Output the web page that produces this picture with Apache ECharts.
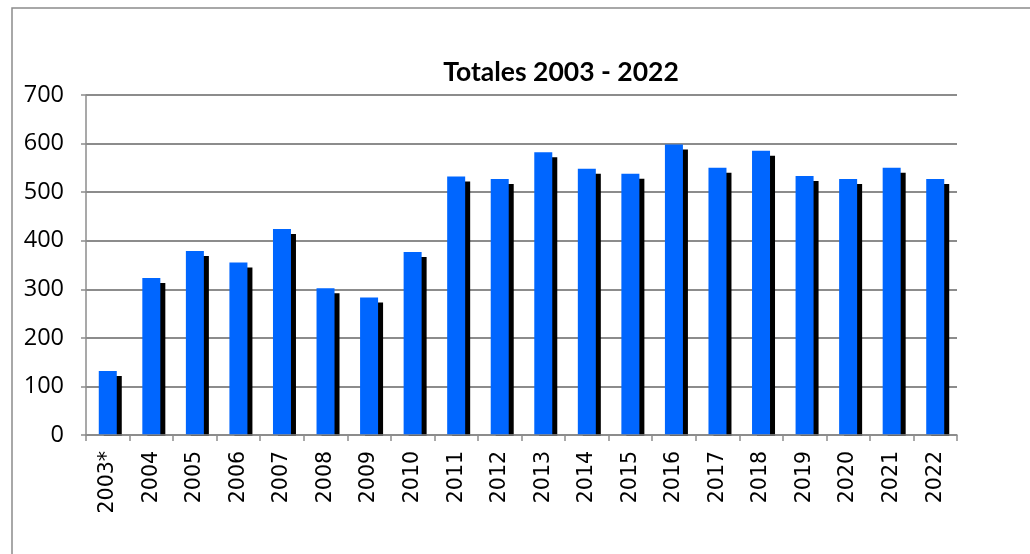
<!DOCTYPE html>
<html>
<head>
<meta charset="utf-8">
<script src="https://cdn.jsdelivr.net/npm/echarts@6/dist/echarts.min.js"></script>
<style>
  html, body { margin: 0; padding: 0; background: #fff; }
  #main { width: 1030px; height: 554px; }
</style>
</head>
<body>
<div id="main"></div>
<script>
// data
var years = ['2003*', '2004', '2005', '2006', '2007', '2008', '2009', '2010', '2011', '2012',
             '2013', '2014', '2015', '2016', '2017', '2018', '2019', '2020', '2021', '2022'];
var totals = [132, 323, 379, 355, 424, 302, 283, 377, 532, 527,
              582, 548, 538, 598, 550, 585, 533, 527, 550, 527];

var myChart = echarts.init(document.getElementById('main'));

var option = {
    animation: false,
    backgroundColor: '#fff',
    title: {
        text: 'Totales 2003 - 2022',
        left: 556,
        textAlign: 'center',
        top: 54,
        textStyle: {
            fontFamily: 'Lato',
            fontSize: 26.5,
            fontWeight: 'bold',
            color: '#000'
        }
    },
    graphic: [{
        type: 'rect',
        shape: { x: 12, y: 8, width: 1040, height: 560 },
        style: { fill: 'none', stroke: '#8c8c8c', lineWidth: 1.5 },
        silent: true
    }, {
        // hides the part of the bar shadow that falls below the baseline
        type: 'rect',
        shape: { x: 84, y: 436, width: 880, height: 7 },
        style: { fill: '#fff' },
        z: 50,
        silent: true
    }],
    grid: { left: 86, right: 73, top: 95, bottom: 119 },
    xAxis: {
        type: 'category',
        data: years,
        boundaryGap: true,
        z: 100,
        axisLine: { lineStyle: { color: '#8c8c8c', width: 1.5 } },
        axisTick: { show: true, alignWithLabel: false, length: 6, lineStyle: { color: '#8c8c8c', width: 1.5 } },
        axisLabel: {
            rotate: 90,
            interval: 0,
            margin: 16,
            color: '#000',
            fontFamily: 'DejaVu Sans',
            fontSize: 20.5
        }
    },
    yAxis: {
        type: 'value',
        min: 0,
        max: 700,
        interval: 100,
        axisLine: { show: true, lineStyle: { color: '#8c8c8c', width: 1.5 } },
        axisTick: { show: true, length: 5, lineStyle: { color: '#8c8c8c', width: 1.5 } },
        splitLine: { lineStyle: { color: '#8c8c8c', width: 2 } },
        axisLabel: {
            margin: 22,
            color: '#000',
            fontFamily: 'Open Sans',
            fontSize: 23.5
        }
    },
    series: [{
        name: 'Totales',
        type: 'bar',
        data: totals,
        barWidth: 18,
        itemStyle: {
            color: '#0066ff',
            shadowColor: '#000',
            shadowBlur: 0,
            shadowOffsetX: 5,
            shadowOffsetY: 5
        }
    }]
};

myChart.setOption(option);
</script>
</body>
</html>
